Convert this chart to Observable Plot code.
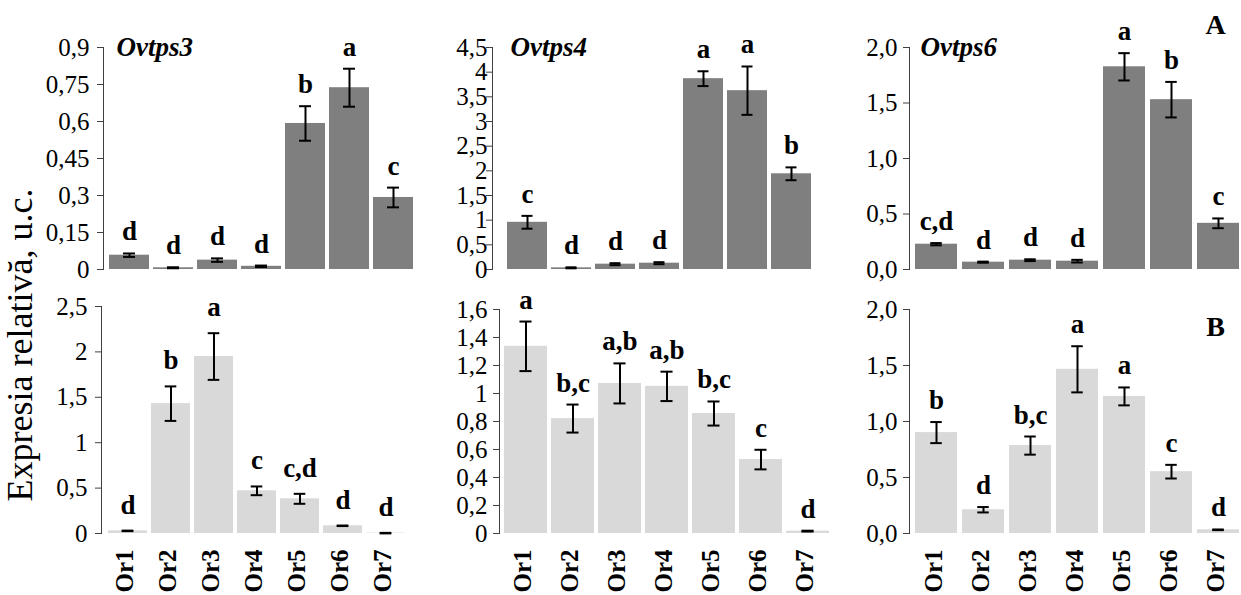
<!DOCTYPE html>
<html>
<head>
<meta charset="utf-8">
<script src="https://cdn.jsdelivr.net/npm/d3@7"></script>
<script src="https://cdn.jsdelivr.net/npm/@observablehq/plot@0.6"></script>
<style>
  html, body { margin: 0; padding: 0; overflow: hidden; background: #fff; }
  #fig { position: relative; width: 1241px; height: 595px; overflow: hidden;
         font-family: "Liberation Serif", "Times New Roman", serif; }
  #fig svg { position: absolute; }
  #fig svg text { font-family: "Liberation Serif", "Times New Roman", serif; }
  g[aria-label="x-axis tick label"] text { font-weight: bold; }
</style>
</head>
<body>
<div id="fig"></div>
<script>
// ---------- DATA ----------
const categories = ["Or1", "Or2", "Or3", "Or4", "Or5", "Or6", "Or7"];

// Row A (dark bars)
const ovtps3AMean = [0.058, 0.007, 0.038, 0.013, 0.592, 0.737, 0.292];
const ovtps3AErr  = [0.007, 0.002, 0.007, 0.003, 0.070, 0.077, 0.040];
const ovtps3ALetters = ["d", "d", "d", "d", "b", "a", "c"];
const ovtps3ATicks = [0, 0.15, 0.3, 0.45, 0.6, 0.75, 0.9];
const ovtps3ATickLabels = ["0", "0,15", "0,3", "0,45", "0,6", "0,75", "0,9"];

const ovtps4AMean = [0.957, 0.034, 0.108, 0.128, 3.868, 3.625, 1.940];
const ovtps4AErr  = [0.130, 0.010, 0.020, 0.020, 0.150, 0.490, 0.130];
const ovtps4ALetters = ["c", "d", "d", "d", "a", "a", "b"];
const ovtps4ATicks = [0, 0.5, 1, 1.5, 2, 2.5, 3, 3.5, 4, 4.5];
const ovtps4ATickLabels = ["0", "0,5", "1", "1,5", "2", "2,5", "3", "3,5", "4", "4,5"];

const ovtps6AMean = [0.228, 0.066, 0.084, 0.075, 1.826, 1.530, 0.416];
const ovtps6AErr  = [0.010, 0.005, 0.008, 0.012, 0.123, 0.160, 0.044];
const ovtps6ALetters = ["c,d", "d", "d", "d", "a", "b", "c"];
const ovtps6ATicks = [0, 0.5, 1, 1.5, 2];
const ovtps6ATickLabels = ["0,0", "0,5", "1,0", "1,5", "2,0"];

// Row B (light bars)
const ovtps3BMean = [0.029, 1.430, 1.949, 0.470, 0.382, 0.085, 0.004];
const ovtps3BErr  = [0.003, 0.190, 0.257, 0.048, 0.055, 0.003, 0.003];
const ovtps3BLetters = ["d", "b", "a", "c", "c,d", "d", "d"];
const ovtps3BTicks = [0, 0.5, 1, 1.5, 2, 2.5];
const ovtps3BTickLabels = ["0", "0,5", "1", "1,5", "2", "2,5"];

const ovtps4BMean = [1.337, 0.821, 1.072, 1.051, 0.857, 0.528, 0.017];
const ovtps4BErr  = [0.177, 0.100, 0.143, 0.105, 0.086, 0.070, 0.003];
const ovtps4BLetters = ["a", "b,c", "a,b", "a,b", "b,c", "c", "d"];
const ovtps4BTicks = [0, 0.2, 0.4, 0.6, 0.8, 1, 1.2, 1.4, 1.6];
const ovtps4BTickLabels = ["0", "0,2", "0,4", "0,6", "0,8", "1", "1,2", "1,4", "1,6"];

const ovtps6BMean = [0.901, 0.212, 0.785, 1.466, 1.224, 0.552, 0.033];
const ovtps6BErr  = [0.094, 0.024, 0.081, 0.206, 0.080, 0.061, 0.003];
const ovtps6BLetters = ["b", "d", "b,c", "a", "a", "c", "d"];
const ovtps6BTicks = [0, 0.5, 1, 1.5, 2];
const ovtps6BTickLabels = ["0,0", "0,5", "1,0", "1,5", "2,0"];

const geneTitles = ["Ovtps3", "Ovtps4", "Ovtps6"];
const rowLabels = ["A", "B"];
const yTitle = "Expresia relativă, u.c.";

// ---------- DRAW ----------
const FONT = '"Liberation Serif", "Times New Roman", serif';
const fig = document.getElementById("fig");

function panel(cfg) {
  const rows = categories.map((c, i) => ({
    cat: c, v: cfg.mean[i], lo: cfg.mean[i] - cfg.err[i], hi: cfg.mean[i] + cfg.err[i], letter: cfg.letters[i]
  }));
  const n = categories.length;
  const L = cfg.width - cfg.marginLeft - cfg.insetLeft;
  const step = L / (n + cfg.padding);
  const bw = step * (1 - cfg.padding);
  const capInset = (bw - 12) / 2;
  const labelMap = new Map(cfg.ticks.map((t, i) => [t, cfg.tickLabels[i]]));

  const marks = [
    Plot.barY(rows, {x: "cat", y: "v", fill: cfg.fill}),
    Plot.ruleX(rows, {x: "cat", y1: "lo", y2: "hi", stroke: "#000", strokeWidth: 2}),
    Plot.tickY(rows, {x: "cat", y: "lo", stroke: "#000", strokeWidth: 2, insetLeft: capInset, insetRight: capInset}),
    Plot.tickY(rows, {x: "cat", y: "hi", stroke: "#000", strokeWidth: 2, insetLeft: capInset, insetRight: capInset}),
    Plot.text(rows, {x: "cat", y: "hi", text: "letter", dy: cfg.letterDy, lineAnchor: "bottom",
                     fontWeight: "bold", fontSize: 27, fontFamily: FONT}),
    Plot.frame({anchor: "left", stroke: "#404040"}),
    Plot.axisY({ticks: cfg.ticks, tickFormat: d => labelMap.get(d), tickSize: 6, tickPadding: cfg.tickPadding,
                label: null, fontSize: 25, fontFamily: FONT, stroke: "#404040"})
  ];
  if (cfg.title) {
    marks.push(Plot.text([cfg.title], {frameAnchor: "top-left", dx: cfg.titleDx, dy: 8, textAnchor: "start",
      lineAnchor: "bottom", fontStyle: "italic", fontWeight: "bold", fontSize: 27, fontFamily: FONT}));
  }
  if (cfg.corner) {
    marks.push(Plot.text([cfg.corner], {frameAnchor: "top-right", dx: -31, dy: cfg.cornerDy, textAnchor: "middle",
      lineAnchor: "bottom", fontWeight: "bold", fontSize: 28, fontFamily: FONT}));
  }
  if (cfg.showX) {
    marks.push(Plot.axisX({tickSize: 0, tickPadding: 16, tickRotate: -90, label: null, dx: -3,
      fontSize: 25, fontWeight: "bold", fontFamily: FONT}));
  }
  const svg = Plot.plot({
    width: cfg.width, height: cfg.height,
    marginLeft: cfg.marginLeft, marginRight: 0, marginTop: cfg.marginTop, marginBottom: cfg.marginBottom,
    style: {fontFamily: FONT, fontSize: "24px", color: "#000", background: "transparent", overflow: "visible"},
    x: {domain: categories, padding: cfg.padding, insetLeft: cfg.insetLeft, insetRight: 0, axis: cfg.showX ? undefined : null},
    y: {domain: [0, cfg.ticks[cfg.ticks.length - 1]], axis: null},
    marks
  });
  svg.style.left = cfg.left + "px";
  svg.style.top = cfg.top + "px";
  fig.appendChild(svg);
}

const rowA = {top: 0, height: 274, marginTop: 47, marginBottom: 5, fill: "#7f7f7f", showX: false, letterDy: -13};
const rowB = {top: 280, height: 315, marginBottom: 62, fill: "#d9d9d9", showX: true, letterDy: -13};

panel({...rowA, left: 0, width: 417, marginLeft: 103, insetLeft: 1, padding: 0.093, tickPadding: 8,
  mean: ovtps3AMean, err: ovtps3AErr, letters: ovtps3ALetters, ticks: ovtps3ATicks, tickLabels: ovtps3ATickLabels,
  title: geneTitles[0], titleDx: 13});
panel({...rowA, left: 410, width: 409, marginLeft: 82, insetLeft: 8, padding: 0.089, tickPadding: -1,
  mean: ovtps4AMean, err: ovtps4AErr, letters: ovtps4ALetters, ticks: ovtps4ATicks, tickLabels: ovtps4ATickLabels,
  title: geneTitles[1], titleDx: 18});
panel({...rowA, left: 820, width: 426, marginLeft: 89, insetLeft: 0, padding: 0.104, tickPadding: 6,
  mean: ovtps6AMean, err: ovtps6AErr, letters: ovtps6ALetters, ticks: ovtps6ATicks, tickLabels: ovtps6ATickLabels,
  title: geneTitles[2], titleDx: 11, corner: rowLabels[0], cornerDy: -14});

panel({...rowB, left: 0, width: 411, marginLeft: 101, marginTop: 26, insetLeft: 0, padding: 0.098, tickPadding: 8,
  letterDy: -17,
  mean: ovtps3BMean, err: ovtps3BErr, letters: ovtps3BLetters, ticks: ovtps3BTicks, tickLabels: ovtps3BTickLabels});
panel({...rowB, left: 410, width: 423, marginLeft: 89, marginTop: 29, insetLeft: 0, padding: 0.089, tickPadding: 6,
  mean: ovtps4BMean, err: ovtps4BErr, letters: ovtps4BLetters, ticks: ovtps4BTicks, tickLabels: ovtps4BTickLabels});
panel({...rowB, left: 820, width: 426, marginLeft: 89, marginTop: 29, insetLeft: 0, padding: 0.104, tickPadding: 6,
  mean: ovtps6BMean, err: ovtps6BErr, letters: ovtps6BLetters, ticks: ovtps6BTicks, tickLabels: ovtps6BTickLabels,
  corner: rowLabels[1], cornerDy: 26});

// shared y-axis title
const yt = d3.select(fig).append("svg")
  .attr("width", 60).attr("height", 595)
  .style("left", "0px").style("top", "0px").style("overflow", "visible");
yt.append("text")
  .attr("transform", "translate(32,345) rotate(-90)")
  .attr("text-anchor", "middle")
  .attr("font-family", FONT)
  .attr("font-size", 36)
  .attr("fill", "#000")
  .text(yTitle);
</script>
</body>
</html>
